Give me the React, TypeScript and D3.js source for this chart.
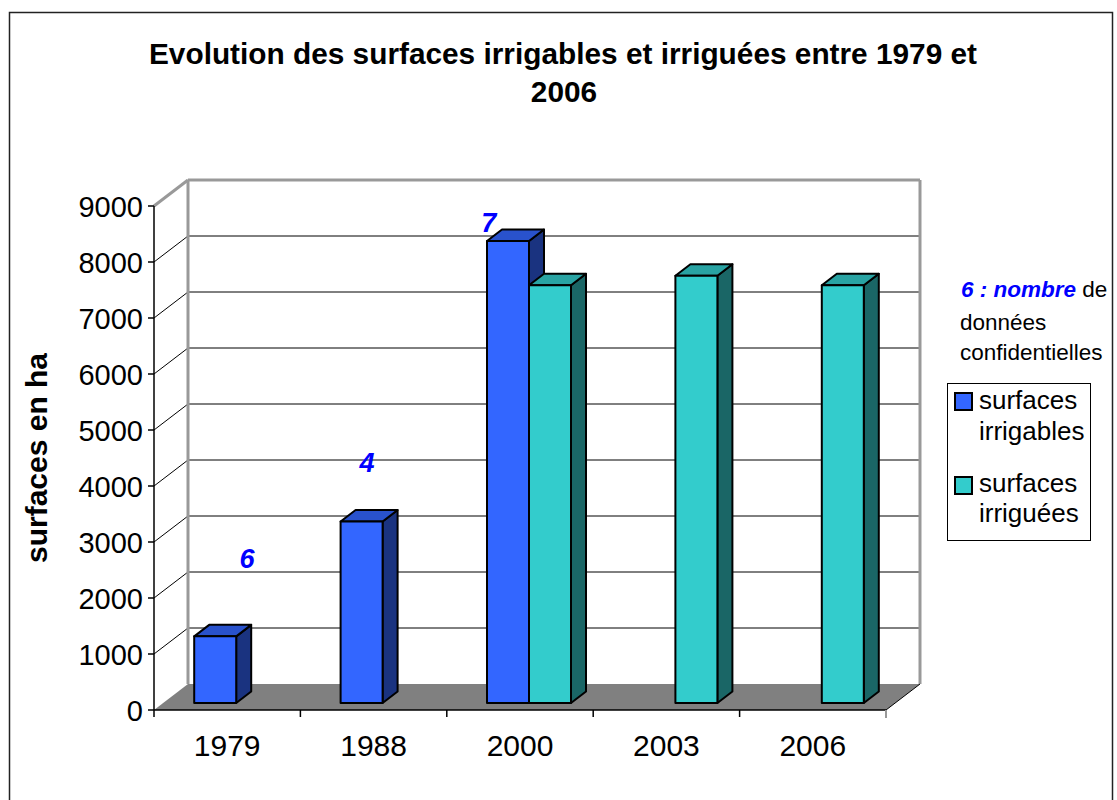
import React from "react";
import * as d3 from "d3";

const categories = ["1979", "1988", "2000", "2003", "2006"];
const seriesNames = ["surfaces irrigables", "surfaces irriguées"];
const irrigables: (number | null)[] = [1190, 3240, 8250, null, null];
const irriguees: (number | null)[] = [null, null, 7460, 7630, 7460];
const yTicks = [0, 1000, 2000, 3000, 4000, 5000, 6000, 7000, 8000, 9000];
// confidential-data counts shown above the irrigable bars
const confCounts = ["6", "4", "7"];
const confCats = ["1979", "1988", "2000"];
const confLevel = [2540, 4250, 8540];
const confPos = [0.635, 0.455, 0.287];

const W = 1117;
const H = 800;
const FONT = "'Liberation Sans', Arial, Helvetica, sans-serif";
const DX = 34, DY = -26; // wall depth
const BDX = 15, BDY = -11.5; // bar depth
const FX = 9, FY = -7; // bar front-face offset in depth

const COLORS = [
  { front: "#3366FF", top: "#2952CC", side: "#1A3380" },
  { front: "#33CCCC", top: "#29A3A3", side: "#1A6666" },
];

export default function App() {
  const x = d3.scaleBand<string>().domain(categories).range([154, 886]).padding(0);
  const y = d3.scaleLinear().domain([0, 9000]).range([710, 206]);
  const inner = d3.scaleBand<string>().domain(seriesNames).range([31.2, 115.2]).padding(0);
  const bw = inner.bandwidth();
  const series = [irrigables, irriguees];

  const x0 = x.range()[0], x1 = x.range()[1];
  const yTop = y(9000), yBot = y(0);

  const bars: JSX.Element[] = [];
  categories.forEach((c, ci) => {
    series.forEach((s, si) => {
      const v = s[ci];
      if (v == null) return;
      const bx = (x(c) as number) + (inner(seriesNames[si]) as number) + FX;
      const bt = y(v) + FY;
      const bb = y(0) + FY;
      const col = COLORS[si];
      const line = d3.line();
      const side = line([[bx + bw, bt], [bx + bw + BDX, bt + BDY], [bx + bw + BDX, bb + BDY], [bx + bw, bb]]) + "Z";
      const top = line([[bx, bt], [bx + BDX, bt + BDY], [bx + bw + BDX, bt + BDY], [bx + bw, bt]]) + "Z";
      bars.push(
        <g key={c + si} stroke="#000" strokeWidth={2} strokeLinejoin="round">
          <path d={side} fill={col.side} />
          <path d={top} fill={col.top} />
          <rect x={bx} y={bt} width={bw} height={bb - bt} fill={col.front} />
        </g>
      );
    });
  });

  const floor = d3.line()([[x0, yBot], [x1, yBot], [x1 + DX, yBot + DY], [x0 + DX, yBot + DY]]) + "Z";

  return (
    <svg width={W} height={H} style={{ position: "absolute", left: 0, top: 0, background: "#fff" }} fontFamily={FONT}>
      <defs>
        <clipPath id="chartClip">
          <rect x={9} y={12} width={1104} height={800} />
        </clipPath>
      </defs>
      <rect x={0} y={0} width={W} height={H} fill="#fff" />
      <rect x={9.5} y={12.5} width={1103} height={800} fill="#fff" stroke="#222" strokeWidth={1.5} />

      {/* title */}
      <g fontWeight="bold" fontSize={29.8} textAnchor="middle" fill="#000">
        <text x={563} y={64}>Evolution des surfaces irrigables et irriguées entre 1979 et</text>
        <text x={564} y={102}>2006</text>
      </g>

      {/* back wall gridlines */}
      {yTicks.filter((t) => t > 0 && t < 9000).map((t) => (
        <g key={"g" + t} stroke="#000" strokeWidth={1}>
          <line x1={x0 + DX} x2={x1 + DX} y1={y(t) + DY} y2={y(t) + DY} />
          <line x1={x0} x2={x0 + DX} y1={y(t)} y2={y(t) + DY} />
        </g>
      ))}
      {/* wall edges */}
      <g stroke="#999" strokeWidth={3} fill="none">
        <line x1={x0 + DX} x2={x0 + DX} y1={yTop + DY} y2={yBot + DY} />
        <line x1={x0 + DX} x2={x1 + DX} y1={yTop + DY} y2={yTop + DY} />
        <line x1={x1 + DX} x2={x1 + DX} y1={yTop + DY} y2={yBot + DY} />
        <line x1={x0} x2={x0 + DX} y1={yTop} y2={yTop + DY} />
      </g>
      {/* floor */}
      <path d={floor} fill="#808080" />
      <line x1={x1} y1={yBot} x2={x1 + DX} y2={yBot + DY} stroke="#000" strokeWidth={1} />

      {bars}

      {/* axes */}
      <g stroke="#000" strokeWidth={1.5}>
        <line x1={x0} x2={x0} y1={yTop} y2={yBot} />
        <line x1={x0} x2={x1} y1={yBot} y2={yBot} />
        {yTicks.map((t) => (
          <line key={"yt" + t} x1={x0 - 6} x2={x0} y1={y(t)} y2={y(t)} />
        ))}
        {categories.map((c) => (
          <line key={"xt" + c} x1={x(c) as number} x2={x(c) as number} y1={yBot} y2={yBot + 7} />
        ))}
      </g>
      <line x1={x1} x2={x1} y1={yBot} y2={yBot + 8} stroke="#999" strokeWidth={2} />

      <g fontSize={29} fill="#000" textAnchor="end">
        {yTicks.map((t) => (
          <text key={"yl" + t} x={x0 - 11} y={y(t) + 10.5}>{t}</text>
        ))}
      </g>
      <g fontSize={30} fill="#000" textAnchor="middle">
        {categories.map((c) => (
          <text key={"xl" + c} x={(x(c) as number) + x.bandwidth() / 2} y={756}>{c}</text>
        ))}
      </g>
      <text transform="translate(47,458) rotate(-90)" textAnchor="middle" fontSize={30} fontWeight="bold" fill="#000">
        surfaces en ha
      </text>

      {/* confidential counts */}
      <g fontSize={27} fontWeight="bold" fontStyle="italic" fill="#0000FF" textAnchor="middle">
        {confCounts.map((n, i) => (
          <text key={"cc" + i} x={(x(confCats[i]) as number) + x.bandwidth() * confPos[i]} y={y(confLevel[i])}>{n}</text>
        ))}
      </g>

      {/* note */}
      <g clipPath="url(#chartClip)" fontSize={22.5} fill="#000">
        <text x={961} y={297}>
          <tspan fill="#0000FF" fontWeight="bold" fontStyle="italic">6 :  nombre</tspan>
          <tspan> de</tspan>
        </text>
        <text x={960} y={330}>données</text>
        <text x={960} y={360}>confidentielles</text>
      </g>

      {/* legend */}
      <g>
        <rect x={947.5} y={383.5} width={143} height={157} fill="#fff" stroke="#000" strokeWidth={1} />
        {seriesNames.map((s, i) => (
          <g key={"lg" + s}>
            <rect x={955} y={393 + i * 84} width={17} height={17} fill={COLORS[i].front} stroke="#000" strokeWidth={2} />
            <text x={979} y={409 + i * 83} fontSize={26} fill="#000">{s.split(" ")[0]}</text>
            <text x={979} y={440 + i * 82} fontSize={26} fill="#000">{s.split(" ")[1]}</text>
          </g>
        ))}
      </g>
    </svg>
  );
}
